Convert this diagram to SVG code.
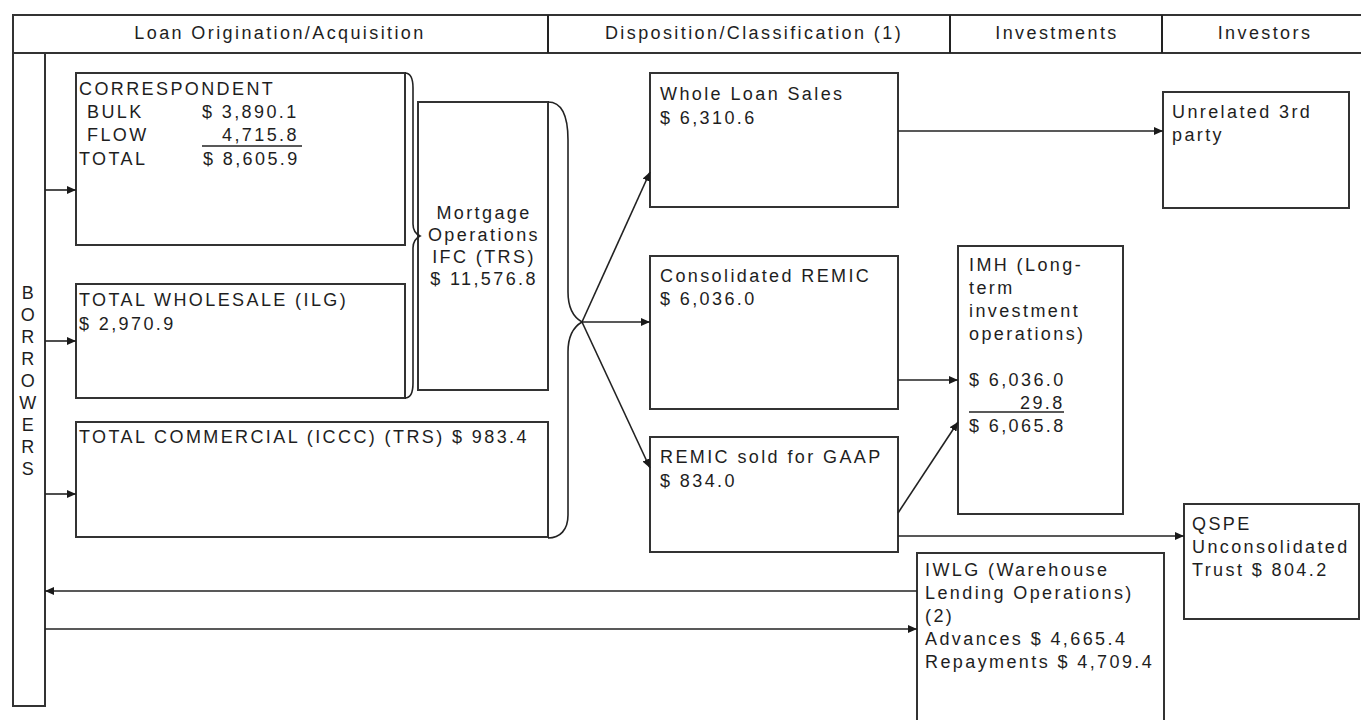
<svg xmlns="http://www.w3.org/2000/svg" width="1361" height="720" viewBox="0 0 1361 720">
<style>
text{font-family:"Liberation Sans",Arial,sans-serif;font-size:18px;fill:#1e1e1e;letter-spacing:2.4px}
.box{fill:#fff;stroke:#333;stroke-width:2}
.ln{fill:none;stroke:#222;stroke-width:1.6}
.c{text-anchor:middle}
</style>
<defs>
<marker id="ah" viewBox="0 0 9 8" refX="9" refY="4" markerWidth="9" markerHeight="8" markerUnits="userSpaceOnUse" orient="auto">
<path d="M0,0 L9,4 L0,8 z" fill="#1a1a1a"/>
</marker>
</defs>
<rect width="1361" height="720" fill="#fff"/>
<g id="header">
<rect class="box" x="13" y="15" width="1360" height="38"/>
<line class="ln" x1="548" y1="15" x2="548" y2="53" style="stroke-width:2"/>
<line class="ln" x1="950" y1="15" x2="950" y2="53" style="stroke-width:2"/>
<line class="ln" x1="1162" y1="15" x2="1162" y2="53" style="stroke-width:2"/>
<text class="c" x="280" y="39">Loan Origination/Acquisition</text>
<text class="c" x="754" y="39">Disposition/Classification (1)</text>
<text class="c" x="1057" y="39">Investments</text>
<text class="c" x="1265" y="39">Investors</text>
</g>
<g id="borrowers">
<rect class="box" x="13" y="53" width="32" height="653"/>
<text class="c" x="29" y="299">B</text>
<text class="c" x="29" y="321">O</text>
<text class="c" x="29" y="343">R</text>
<text class="c" x="29" y="365">R</text>
<text class="c" x="29" y="387">O</text>
<text class="c" x="29" y="409">W</text>
<text class="c" x="29" y="431">E</text>
<text class="c" x="29" y="453">R</text>
<text class="c" x="29" y="475">S</text>
</g>
<g id="correspondent">
<rect class="box" x="76" y="73" width="329" height="172"/>
<text x="79" y="95">CORRESPONDENT</text>
<text x="87" y="118">BULK</text>
<text x="202" y="118">$ 3,890.1</text>
<text x="87" y="141">FLOW</text>
<text x="222" y="141">4,715.8</text>
<line class="ln" x1="202" y1="146" x2="302" y2="146"/>
<text x="79" y="165">TOTAL</text>
<text x="203" y="165">$ 8,605.9</text>
</g>
<g id="wholesale">
<rect class="box" x="76" y="284" width="329" height="114"/>
<text x="79" y="306">TOTAL WHOLESALE (ILG)</text>
<text x="79" y="330">$ 2,970.9</text>
</g>
<g id="commercial">
<rect class="box" x="76" y="422" width="472" height="115"/>
<text x="79" y="443" letter-spacing="3.4">TOTAL COMMERCIAL (ICCC) (TRS) $ 983.4</text>
</g>
<g id="mortgage">
<rect class="box" x="418" y="102" width="130" height="288"/>
<text class="c" x="484" y="219">Mortgage</text>
<text class="c" x="484" y="241">Operations</text>
<text class="c" x="484" y="263">IFC (TRS)</text>
<text class="c" x="484" y="285">$ 11,576.8</text>
</g>
<g id="whole-loan-sales">
<rect class="box" x="650" y="73" width="248" height="134"/>
<text x="660" y="100">Whole Loan Sales</text>
<text x="660" y="124">$ 6,310.6</text>
</g>
<g id="consolidated-remic">
<rect class="box" x="650" y="256" width="248" height="153"/>
<text x="660" y="282">Consolidated REMIC</text>
<text x="660" y="305">$ 6,036.0</text>
</g>
<g id="remic-sold">
<rect class="box" x="650" y="437" width="248" height="115"/>
<text x="660" y="463">REMIC sold for GAAP</text>
<text x="660" y="487">$ 834.0</text>
</g>
<g id="imh">
<rect class="box" x="958" y="246" width="165" height="268"/>
<text x="969" y="271">IMH (Long-</text>
<text x="969" y="294">term</text>
<text x="969" y="317">investment</text>
<text x="969" y="340">operations)</text>
<text x="969" y="386">$ 6,036.0</text>
<text x="1020" y="409">29.8</text>
<line class="ln" x1="969" y1="412" x2="1064" y2="412"/>
<text x="969" y="432">$ 6,065.8</text>
</g>
<g id="unrelated">
<rect class="box" x="1163" y="92" width="186" height="116"/>
<text x="1172" y="118">Unrelated 3rd</text>
<text x="1172" y="141">party</text>
</g>
<g id="qspe">
<rect class="box" x="1184" y="504" width="175" height="115"/>
<text x="1192" y="530">QSPE</text>
<text x="1192" y="553">Unconsolidated</text>
<text x="1192" y="576">Trust $ 804.2</text>
</g>
<g id="iwlg">
<rect class="box" x="917" y="553" width="247" height="175"/>
<text x="925" y="576">IWLG (Warehouse</text>
<text x="925" y="599">Lending Operations)</text>
<text x="925" y="622">(2)</text>
<text x="925" y="645">Advances $ 4,665.4</text>
<text x="925" y="668">Repayments $ 4,709.4</text>
</g>
<g id="connectors">
<path class="ln" d="M405,73 C411,73 413,78 413,88 L413,224 C413,231 416,234 420,236 C416,238 413,241 413,248 L413,383 C413,393 411,398 405,398"/>
<path class="ln" d="M548,102 C560,102 568,112 568,140 L568,292 C568,310 575,318 582,322 C575,326 568,334 568,352 L568,515 C568,530 560,538 548,538"/>
<line class="ln" x1="45" y1="190" x2="76" y2="190" marker-end="url(#ah)"/>
<line class="ln" x1="45" y1="341" x2="76" y2="341" marker-end="url(#ah)"/>
<line class="ln" x1="45" y1="494" x2="76" y2="494" marker-end="url(#ah)"/>
<line class="ln" x1="582" y1="322" x2="650" y2="172" marker-end="url(#ah)"/>
<line class="ln" x1="582" y1="322" x2="650" y2="322" marker-end="url(#ah)"/>
<line class="ln" x1="582" y1="322" x2="650" y2="468" marker-end="url(#ah)"/>
<line class="ln" x1="898" y1="131" x2="1163" y2="131" marker-end="url(#ah)"/>
<line class="ln" x1="898" y1="380" x2="958" y2="380" marker-end="url(#ah)"/>
<line class="ln" x1="898" y1="513" x2="958" y2="422" marker-end="url(#ah)"/>
<line class="ln" x1="898" y1="536" x2="1184" y2="536" marker-end="url(#ah)"/>
<line class="ln" x1="917" y1="591" x2="45" y2="591" marker-end="url(#ah)"/>
<line class="ln" x1="45" y1="629" x2="917" y2="629" marker-end="url(#ah)"/>
</g>
</svg>
